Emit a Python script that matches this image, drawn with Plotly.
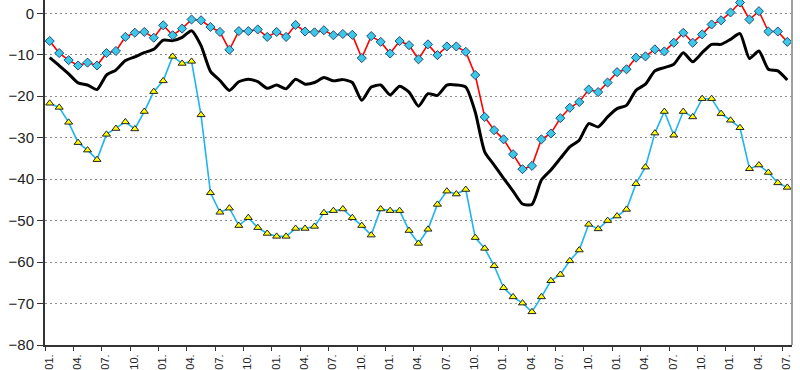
import plotly.graph_objects as go

# monthly index 0..78
red_vals = [-6.7, -9.6, -11.3, -12.6, -11.9, -12.6, -9.6, -9.1, -5.7, -4.7,
            -4.5, -5.9, -2.9, -5.3, -3.7, -1.5, -1.7, -3.3, -4.5, -8.8,
            -4.3, -4.3, -3.9, -5.7, -4.5, -5.7, -2.8, -4.4, -4.6, -4.1,
            -5.3, -5.0, -5.2, -10.8, -5.5, -6.9, -9.7, -6.7, -7.7, -11.1,
            -7.5, -10.1, -8.0, -8.0, -9.3, -14.9, -25.0, -28.2, -30.4, -34.0,
            -37.6, -36.8, -30.4, -29.0, -25.3, -22.8, -21.4, -18.4, -19.0, -16.7,
            -14.2, -13.5, -10.7, -10.4, -8.7, -9.2, -7.1, -4.7, -7.1, -5.1,
            -2.7, -1.7, 0.2, 2.6, -1.5, 0.5, -4.4, -4.4, -6.9]

black_vals = [-10.7, -12.6, -14.6, -16.8, -17.3, -18.4, -14.9, -13.7, -11.4, -10.5,
              -9.5, -8.7, -6.5, -6.6, -5.8, -4.2, -7.8, -14.0, -16.2, -18.6,
              -16.5, -15.9, -16.5, -18.1, -17.3, -18.2, -15.9, -17.1, -16.7, -15.5,
              -16.3, -16.0, -16.7, -21.0, -17.8, -17.3, -19.7, -17.6, -19.0, -22.4,
              -19.4, -19.8, -17.3, -17.3, -17.8, -23.8, -33.4, -36.6, -39.8, -42.9,
              -46.0, -46.1, -40.2, -37.8, -35.0, -32.2, -30.6, -26.6, -27.4, -25.0,
              -23.0, -22.2, -18.6, -17.1, -13.9, -13.1, -12.3, -9.5, -11.7, -9.5,
              -7.5, -7.5, -6.3, -4.9, -10.9, -9.1, -13.5, -13.9, -16.1]

tri_vals = [-21.7, -22.7, -26.3, -31.2, -33.0, -35.3, -29.2, -27.8, -26.2, -27.9,
            -23.7, -18.9, -16.3, -10.4, -12.1, -11.6, -24.5, -43.3, -48.0, -47.0,
            -51.2, -49.3, -51.7, -53.1, -53.8, -53.8, -51.9, -51.9, -51.4, -48.1,
            -47.6, -47.2, -49.3, -51.2, -53.5, -47.2, -47.6, -47.6, -52.4, -55.5,
            -52.1, -46.1, -42.9, -43.6, -42.5, -54.1, -56.7, -60.9, -66.2, -68.4,
            -69.9, -72.0, -68.4, -64.5, -63.0, -59.7, -57.1, -50.9, -52.0, -50.0,
            -48.9, -47.3, -41.1, -37.1, -28.9, -23.7, -29.4, -23.7, -25.0, -20.6,
            -20.6, -24.2, -25.8, -27.6, -37.5, -36.6, -38.4, -40.9, -42.0]

month_labels = ["01.", "04.", "07.", "10."]
n_quarters = 27
y_ticks = [0, -10, -20, -30, -40, -50, -60, -70, -80]

x = list(range(len(red_vals)))
tick_pos = [-0.5 + 3 * k for k in range(n_quarters)]
tick_text = [month_labels[k % 4] for k in range(n_quarters)]

fig = go.Figure()
fig.add_trace(go.Scatter(
    x=x, y=black_vals, mode="lines",
    line=dict(color="#000000", width=3, shape="spline", smoothing=0.6),
    showlegend=False))
fig.add_trace(go.Scatter(
    x=x, y=tri_vals, mode="lines+markers",
    line=dict(color="#1EB4F0", width=1.6),
    marker=dict(symbol="triangle-up", size=7, color="#FFFF00",
                line=dict(color="#222222", width=1)),
    showlegend=False))
fig.add_trace(go.Scatter(
    x=x, y=red_vals, mode="lines+markers",
    line=dict(color="#FF0000", width=1.6),
    marker=dict(symbol="diamond", size=7, color="#3CC8E6",
                line=dict(color="#1F4E79", width=1)),
    showlegend=False))

fig.add_shape(type="line", xref="paper", yref="paper", x0=1, x1=1, y0=0, y1=1,
              line=dict(color="#A0A0A0", width=2))

fig.update_layout(
    width=800, height=370,
    margin=dict(l=45, r=8, t=0, b=22),
    paper_bgcolor="white", plot_bgcolor="white",
    font=dict(family="Liberation Sans, Arial, sans-serif", color="#222222"),
    xaxis=dict(
        range=[-0.5, 78.5], tickmode="array", tickvals=tick_pos, ticktext=tick_text,
        tickangle=-90, ticks="outside", ticklen=4, tickcolor="#333333", tickwidth=1,
        ticklabelshift=4, ticklabelstandoff=-1,
        showgrid=False, zeroline=False, showline=True, linecolor="#333333", linewidth=2,
        tickfont=dict(size=11, color="#222222")),
    yaxis=dict(
        range=[-80, 3.2], tickmode="array", tickvals=y_ticks,
        ticks="outside", ticklen=6, tickcolor="#333333", tickwidth=1,
        showgrid=True, gridcolor="#8C8C8C", gridwidth=1, griddash="2px,3px",
        zeroline=False, showline=True, linecolor="#333333", linewidth=2,
        tickfont=dict(size=15, color="#222222")),
)

fig.write_html("out.html", config={"displayModeBar": False},
               post_script="document.body.style.margin='0';document.body.style.overflow='hidden';")
